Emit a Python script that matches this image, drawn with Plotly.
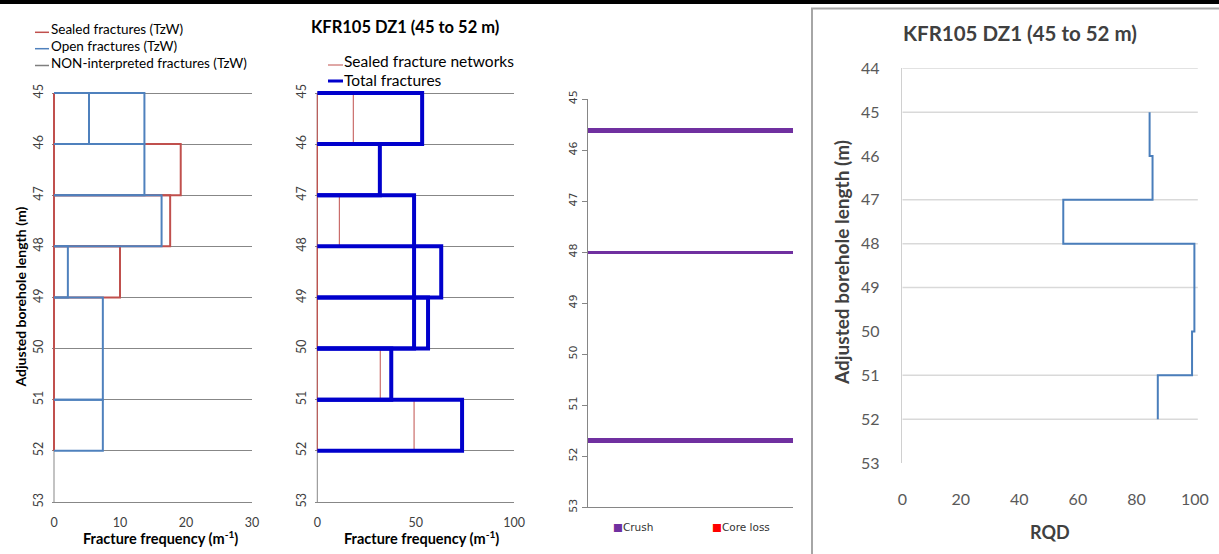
import plotly.graph_objects as go

W, H = 1219, 554

# ---------------- data ----------------
depth_ticks = [45, 46, 47, 48, 49, 50, 51, 52, 53]
rqd_ticks = [44, 45, 46, 47, 48, 49, 50, 51, 52, 53]

# Panel 1 - fracture frequency (TzW), intervals (top, bottom, value)
sealed_top = [45, 46, 47, 48, 49, 50, 51]
sealed_bot = [46, 47, 48, 49, 50, 51, 52]
sealed_val = [0, 19.2, 17.6, 10.0, 0, 0, 0]

open_top = [45, 45, 46, 47, 48, 49, 51]
open_bot = [46, 46, 47, 48, 49, 51, 52]
open_val = [5.3, 13.7, 13.7, 16.3, 2.1, 7.4, 7.4]

nonint_top = [45, 46, 47, 48, 49, 50, 51]
nonint_bot = [46, 47, 48, 49, 50, 51, 52]
nonint_val = [0, 0, 0, 0, 0, 0, 0]

# Panel 2 - fracture networks
net_top = [45, 46, 47, 48, 49, 50, 51]
net_bot = [46, 47, 48, 49, 50, 51, 52]
net_val = [18.3, 0, 11.2, 0, 0, 32.0, 49.2]

total_top = [45, 46, 47, 48, 49, 50, 51]
total_bot = [46, 47, 50, 49, 50, 51, 52]
total_val = [53.3, 31.8, 49.2, 63.0, 56.3, 37.6, 73.6]

# Panel 3 - crush zones (top, bottom)
crush_top = [45.575, 47.975, 51.65]
crush_bot = [45.670, 48.030, 51.735]

# Panel 4 - RQD per metre
rqd_top = [45, 46, 47, 48, 49, 50, 51]
rqd_bot = [46, 47, 48, 49, 50, 51, 52]
rqd_val = [84.5, 85.5, 55.0, 99.8, 99.8, 99.0, 87.3]
rqd_grid = [44, 45, 47, 48, 49, 51, 52]

# ---------------- helpers ----------------
def PX(x):
    return x / W

def PY(y):
    return 1 - y / H

def boxes(tops, bots, vals, closed):
    xs, ys = [], []
    for t, b, v in zip(tops, bots, vals):
        if closed:
            xs += [0, v, v, 0, 0, None]
            ys += [t, t, b, b, t, None]
        else:
            xs += [0, v, v, 0, None]
            ys += [t, t, b, b, None]
    return xs, ys

def steps(tops, bots, vals):
    xs, ys = [], []
    for t, b, v in zip(tops, bots, vals):
        xs += [v, v]
        ys += [t, b]
    return xs, ys

CAL = "Lato"
VER = "DejaVu Sans"
RED = "#C0504D"
BLUE = "#4F81BD"
GRID = "#878787"

fig = go.Figure()

# ----- panel 1 -----
x, y = boxes(nonint_top, nonint_bot, nonint_val, True)
fig.add_trace(go.Scatter(x=x, y=y, mode="lines", line=dict(color="#7F7F7F", width=2),
                         xaxis="x", yaxis="y", hoverinfo="skip"))
x, y = boxes(sealed_top, sealed_bot, sealed_val, True)
fig.add_trace(go.Scatter(x=x, y=y, mode="lines", line=dict(color=RED, width=2),
                         xaxis="x", yaxis="y", hoverinfo="skip"))
x, y = boxes(open_top, open_bot, open_val, False)
fig.add_trace(go.Scatter(x=x, y=y, mode="lines", line=dict(color=BLUE, width=2),
                         xaxis="x", yaxis="y", hoverinfo="skip"))

# ----- panel 2 -----
x, y = boxes(net_top, net_bot, net_val, True)
fig.add_trace(go.Scatter(x=x, y=y, mode="lines", line=dict(color=RED, width=1),
                         xaxis="x2", yaxis="y2", hoverinfo="skip"))
x, y = boxes(total_top, total_bot, total_val, False)
fig.add_trace(go.Scatter(x=x, y=y, mode="lines", line=dict(color="#0000CC", width=4),
                         xaxis="x2", yaxis="y2", hoverinfo="skip"))

# ----- panel 3 -----
fig.add_trace(go.Bar(
    orientation="h",
    y=[(t + b) / 2 for t, b in zip(crush_top, crush_bot)],
    x=[1] * len(crush_top),
    base=0,
    width=[b - t for t, b in zip(crush_top, crush_bot)],
    marker=dict(color="#7030A0", line=dict(width=0)),
    xaxis="x3", yaxis="y3", hoverinfo="skip"))

# ----- panel 4 -----
x, y = steps(rqd_top, rqd_bot, rqd_val)
fig.add_trace(go.Scatter(x=x, y=y, mode="lines", line=dict(color="#4A7EBB", width=2),
                         xaxis="x4", yaxis="y4", hoverinfo="skip"))

# ---------------- axes ----------------
tickfont = dict(family=CAL, size=12.5, color="#404040")

# panel 1 geometry: 0 at 54px, 30 at 252px ; 45 at 93px, 53 at 502px
ppm = (502 - 93) / 8.0
y_top = 93 - 0.05 * ppm
y_bot = 502 + 0.05 * ppm
ydom12 = [PY(y_bot), PY(y_top)]

common_y = dict(range=[53.05, 44.95], tickvals=depth_ticks, showgrid=True,
                gridcolor=GRID, gridwidth=1, zeroline=False, showline=False,
                tickangle=-90, tickfont=tickfont, ticks="", ticklabelstandoff=6,
                automargin=False)

fig.update_layout(
    template="none",
    xaxis=dict(domain=[PX(54 - 0.3 * 6.6), PX(252)], range=[-0.3, 30], tickvals=[0, 10, 20, 30],
               showgrid=False, zeroline=False, showline=False, tickfont=tickfont,
               ticks="", ticklabelstandoff=9, anchor="y", automargin=False),
    yaxis=dict(domain=ydom12, anchor="x", **common_y),
    xaxis2=dict(domain=[PX(317.3 - 1.967), PX(514)], range=[-1, 100], tickvals=[0, 50, 100],
                showgrid=False, zeroline=False, showline=False, tickfont=tickfont,
                ticks="", ticklabelstandoff=9, anchor="y2", automargin=False),
    yaxis2=dict(domain=ydom12, anchor="x2", **common_y),
    xaxis3=dict(domain=[PX(587.7), PX(793.3)], range=[0, 1], showgrid=False, zeroline=False,
                showline=True, linecolor="#868686", linewidth=1, showticklabels=False,
                ticks="", anchor="y3", automargin=False),
    yaxis3=dict(domain=[PY(507.3), PY(99)], range=[53, 45], tickvals=depth_ticks,
                showgrid=False, zeroline=False, showline=True, linecolor="#868686",
                linewidth=1, ticks="outside", ticklen=5, tickcolor="#868686",
                tickangle=-90, tickfont=dict(family=VER, size=11, color="#404040"),
                anchor="x3", automargin=False),
    xaxis4=dict(domain=[PX(902.3), PX(1197.9)], range=[0, 101], tickvals=[0, 20, 40, 60, 80, 100],
                showgrid=False, zeroline=False, showline=False, ticks="",
                tickfont=dict(family=CAL, size=16, color="#595959"),
                ticklabelstandoff=25, anchor="y4", automargin=False),
    yaxis4=dict(domain=[PY(463), PY(68.3)], range=[53, 44], tickvals=rqd_ticks,
                showgrid=False, zeroline=False, showline=True, linecolor="#D0D0D0",
                linewidth=1.5, ticks="", tickfont=dict(family=CAL, size=16, color="#595959"),
                ticklabelstandoff=18, anchor="x4", automargin=False),
    width=W, height=H,
    margin=dict(l=0, r=0, t=0, b=0, pad=0, autoexpand=False),
    paper_bgcolor="white", plot_bgcolor="rgba(0,0,0,0)",
    showlegend=False, bargap=0,
)

shapes = []
# top black rule
shapes.append(dict(type="rect", xref="paper", yref="paper", x0=0, x1=1, y0=PY(4), y1=1,
                   fillcolor="black", line=dict(width=0), layer="above"))
# panel 4 frame
shapes.append(dict(type="rect", xref="paper", yref="paper", x0=PX(812), x1=1.01, y0=-0.01, y1=PY(8.5),
                   fillcolor="rgba(0,0,0,0)", line=dict(color="#A6A6A6", width=2), layer="below"))
# left axis lines panels 1 & 2
shapes.append(dict(type="line", xref="x", yref="y", x0=0, x1=0, y0=45, y1=53,
                   line=dict(color=GRID, width=1), layer="below"))
shapes.append(dict(type="line", xref="x2", yref="y2", x0=0, x1=0, y0=45, y1=53,
                   line=dict(color=GRID, width=1), layer="below"))
# panel 4 gridlines
for g in rqd_grid:
    shapes.append(dict(type="line", xref="x4", yref="y4", x0=0, x1=101, y0=g, y1=g,
                       line=dict(color="#D9D9D9", width=1.5), layer="below"))

# legend line samples
def leg_line(x0, x1, yy, color, width):
    shapes.append(dict(type="line", xref="paper", yref="paper", x0=PX(x0), x1=PX(x1),
                       y0=PY(yy), y1=PY(yy), line=dict(color=color, width=width)))

leg_line(35, 49, 32.3, RED, 1.5)
leg_line(35, 49, 48.7, BLUE, 1.5)
leg_line(35, 49, 65.5, "#7F7F7F", 1.5)
leg_line(328, 343, 65, RED, 1)
leg_line(328, 343, 81, "#0000CC", 3)

fig.update_layout(shapes=shapes)

ann = []
def text(x, y, s, size, family=CAL, bold=False, color="black", xanchor="center", angle=0):
    if bold:
        s = "<b>" + s + "</b>"
    ann.append(dict(xref="paper", yref="paper", x=PX(x), y=PY(y), text=s, showarrow=False,
                    xanchor=xanchor, yanchor="middle", textangle=angle,
                    font=dict(family=family, size=size, color=color)))

# panel 1 legend
text(49, 29.5, "Sealed fractures (TzW)", 13.5, xanchor="left")
text(49, 46, "Open fractures (TzW)", 13.5, xanchor="left")
text(49, 63, "NON-interpreted fractures (TzW)", 13.5, xanchor="left")
# panel 2 legend and title
text(342, 60.5, "Sealed fracture networks", 15.5, xanchor="left")
text(342, 79.5, "Total fractures", 15.5, xanchor="left")
text(404.5, 26.5, "KFR105 DZ1 (45 to 52 m)", 16.5, bold=True)
# axis titles
text(20, 297.5, "Adjusted borehole length (m)", 14, bold=True, angle=-90)
text(160, 537.5, "Fracture frequency (m<sup>-1</sup>)", 14.5, bold=True)
text(421, 537.5, "Fracture frequency (m<sup>-1</sup>)", 14.5, bold=True)
# panel 3 legend
text(611, 526.5, "<span style='color:#7030A0'>■</span>Crush", 10.5, family=VER, color="#333333",
     xanchor="left")
text(709.5, 526.5, "<span style='color:#FF0000'>■</span>Core loss", 10.5, family=VER, color="#333333",
     xanchor="left")
# panel 4 texts
text(1020, 33, "KFR105 DZ1 (45 to 52 m)", 20.5, bold=True, color="#404040")
text(841, 263, "Adjusted borehole length (m)", 19, bold=True, color="#404040", angle=-90)
text(1050, 531.5, "RQD", 18, bold=True, color="#404040")

fig.update_layout(annotations=ann)

fig.write_html("out.html",
               config={"displayModeBar": False, "staticPlot": True},
               post_script="document.body.style.margin='0px';document.body.style.overflow='hidden';")
